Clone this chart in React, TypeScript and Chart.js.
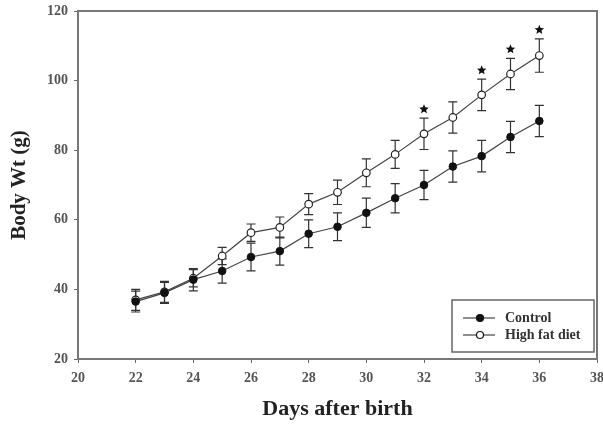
import { useEffect, useRef } from "react";
import { Chart, registerables } from "chart.js";

Chart.register(...registerables);

const days = [22, 23, 24, 25, 26, 27, 28, 29, 30, 31, 32, 33, 34, 35, 36];
const controlMean = [36.5, 39.0, 42.8, 45.3, 49.3, 51.0, 56.0, 58.0, 62.0, 66.2, 70.0, 75.3, 78.3, 83.8, 88.4];
const controlSem = [3.0, 3.0, 3.2, 3.5, 4.0, 4.0, 4.0, 4.0, 4.2, 4.2, 4.2, 4.5, 4.5, 4.5, 4.5];
const highFatMean = [37.0, 39.3, 43.2, 49.6, 56.3, 57.8, 64.5, 67.9, 73.5, 78.8, 84.7, 89.4, 95.9, 101.9, 107.2];
const highFatSem = [3.0, 3.0, 2.5, 2.5, 2.5, 3.0, 3.0, 3.5, 4.0, 4.0, 4.5, 4.5, 4.5, 4.5, 4.8];
const starDays = [32, 34, 35, 36];
const xTicks = [20, 22, 24, 26, 28, 30, 32, 34, 36, 38];
const yTicks = [20, 40, 60, 80, 100, 120];
const seriesLabels = ["Control", "High fat diet"];

const FONT = "'Liberation Serif', 'Times New Roman', serif";

function drawStar(ctx: CanvasRenderingContext2D, cx: number, cy: number, r: number) {
  ctx.beginPath();
  for (let i = 0; i < 10; i++) {
    const rad = i % 2 === 0 ? r : r * 0.45;
    const a = -Math.PI / 2 + (i * Math.PI) / 5;
    const px = cx + rad * Math.cos(a);
    const py = cy + rad * Math.sin(a);
    if (i === 0) ctx.moveTo(px, py);
    else ctx.lineTo(px, py);
  }
  ctx.closePath();
  ctx.fill();
}

const errorBarPlugin = {
  id: "errorBars",
  beforeDatasetsDraw(chart: any) {
    const ctx = chart.ctx;
    const y = chart.scales.y;
    ctx.save();
    ctx.strokeStyle = "#333";
    ctx.lineWidth = 1.2;
    chart.data.datasets.forEach((ds: any, i: number) => {
      const meta = chart.getDatasetMeta(i);
      const errs: number[] = ds.errors;
      if (!errs) return;
      meta.data.forEach((pt: any, j: number) => {
        const v = ds.data[j].y;
        const top = y.getPixelForValue(v + errs[j]);
        const bot = y.getPixelForValue(v - errs[j]);
        const x = pt.x;
        ctx.beginPath();
        ctx.moveTo(x, top);
        ctx.lineTo(x, bot);
        ctx.moveTo(x - 4.5, top);
        ctx.lineTo(x + 4.5, top);
        ctx.moveTo(x - 4.5, bot);
        ctx.lineTo(x + 4.5, bot);
        ctx.stroke();
      });
    });
    ctx.restore();
  },
  afterDraw(chart: any) {
    const ctx = chart.ctx;
    const { left, right, top, bottom } = chart.chartArea;
    const xs = chart.scales.x;
    const ys = chart.scales.y;
    ctx.save();
    ctx.strokeStyle = "#777";
    ctx.lineWidth = 2;
    ctx.beginPath();
    ctx.moveTo(left, top);
    ctx.lineTo(right, top);
    ctx.lineTo(right, bottom);
    ctx.stroke();
    ctx.fillStyle = "#111";
    starDays.forEach((d) => {
      const idx = days.indexOf(d);
      const v = highFatMean[idx] + highFatSem[idx];
      drawStar(ctx, xs.getPixelForValue(d), ys.getPixelForValue(v) - 9, 5);
    });
    const lx = 452, ly = 300, lw = 142, lh = 52;
    ctx.fillStyle = "#fff";
    ctx.fillRect(lx, ly, lw, lh);
    ctx.strokeStyle = "#666";
    ctx.lineWidth = 1.5;
    ctx.strokeRect(lx, ly, lw, lh);
    const rows = [ly + 18, ly + 35];
    seriesLabels.forEach((lab, i) => {
      const yy = rows[i];
      ctx.strokeStyle = "#444";
      ctx.lineWidth = 1.2;
      ctx.beginPath();
      ctx.moveTo(lx + 11, yy);
      ctx.lineTo(lx + 43, yy);
      ctx.stroke();
      ctx.beginPath();
      ctx.arc(lx + 28, yy, 3.5, 0, Math.PI * 2);
      ctx.fillStyle = i === 0 ? "#111" : "#fff";
      ctx.fill();
      ctx.strokeStyle = "#111";
      ctx.stroke();
      ctx.fillStyle = "#333";
      ctx.font = `bold 14px ${FONT}`;
      ctx.textAlign = "left";
      ctx.textBaseline = "middle";
      ctx.fillText(lab, lx + 53, yy);
    });
    ctx.restore();
  },
};

export default function App() {
  const ref = useRef<HTMLCanvasElement | null>(null);
  useEffect(() => {
    document.body.style.margin = "0";
    const canvas = ref.current;
    if (!canvas) return;
    const chart = new Chart(canvas, {
      type: "line",
      data: {
        datasets: [
          {
            label: seriesLabels[0],
            data: days.map((d, i) => ({ x: d, y: controlMean[i] })),
            errors: controlSem,
            borderColor: "#444",
            borderWidth: 1.2,
            pointRadius: 3.8,
            pointBackgroundColor: "#111",
            pointBorderColor: "#111",
            pointBorderWidth: 1,
            fill: false,
            tension: 0,
          } as any,
          {
            label: seriesLabels[1],
            data: days.map((d, i) => ({ x: d, y: highFatMean[i] })),
            errors: highFatSem,
            borderColor: "#444",
            borderWidth: 1.2,
            pointRadius: 3.8,
            pointBackgroundColor: "#fff",
            pointBorderColor: "#222",
            pointBorderWidth: 1.2,
            fill: false,
            tension: 0,
          } as any,
        ],
      },
      options: {
        animation: false,
        responsive: false,
        maintainAspectRatio: false,
        layout: { padding: { top: 11, right: 6, left: 0, bottom: 0 } },
        plugins: { legend: { display: false }, tooltip: { enabled: false } },
        scales: {
          x: {
            type: "linear",
            min: 20,
            max: 38,
            afterBuildTicks: (s: any) => {
              s.ticks = xTicks.map((v) => ({ value: v }));
            },
            afterFit: (s: any) => {
              s.height = 65;
              s.paddingLeft = 0;
              s.paddingRight = 0;
            },
            ticks: {
              padding: 7,
              color: "#555",
              font: { family: FONT, size: 14, weight: "bold" },
              maxRotation: 0,
            },
            grid: { display: true, drawOnChartArea: false, drawTicks: true, tickLength: 4, color: "#666" },
            border: { display: true, color: "#777", width: 2 },
            title: {
              display: true,
              text: "Days after birth",
              color: "#222",
              font: { family: FONT, size: 22, weight: "bold" },
              padding: { top: 0, bottom: 1 },
            },
          },
          y: {
            type: "linear",
            min: 20,
            max: 120,
            afterBuildTicks: (s: any) => {
              s.ticks = yTicks.map((v) => ({ value: v }));
            },
            afterFit: (s: any) => {
              s.width = 78;
              s.paddingTop = 0;
              s.paddingBottom = 0;
            },
            ticks: {
              padding: 6,
              color: "#555",
              font: { family: FONT, size: 14, weight: "bold" },
            },
            grid: { display: true, drawOnChartArea: false, drawTicks: true, tickLength: 4, color: "#666" },
            border: { display: true, color: "#777", width: 2 },
            title: {
              display: true,
              text: "Body Wt (g)",
              color: "#222",
              font: { family: FONT, size: 21, weight: "bold" },
              padding: { top: 7, bottom: 0 },
            },
          },
        },
      },
      plugins: [errorBarPlugin],
    } as any);
    return () => chart.destroy();
  }, []);
  return <canvas ref={ref} width={603} height={424} style={{ display: "block" }} />;
}
